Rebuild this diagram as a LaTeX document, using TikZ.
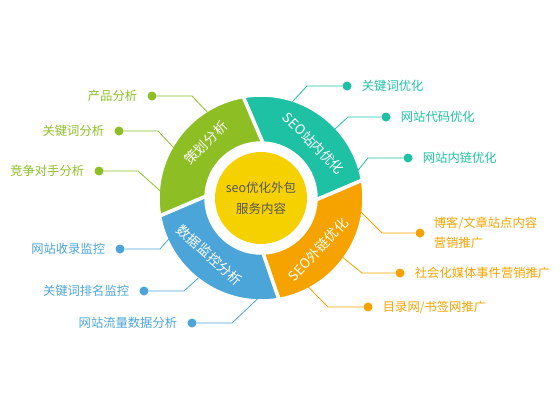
\documentclass[tikz,border=0pt]{standalone}
\usepackage{fontspec}
\setmainfont{Noto Sans CJK SC}
\usetikzlibrary{positioning}

\definecolor{cgreen}{HTML}{8DBF24}
\definecolor{cteal}{HTML}{1FC1A4}
\definecolor{corange}{HTML}{F6A300}
\definecolor{cblue}{HTML}{4CA5D8}
\definecolor{cyellow}{HTML}{F6D100}
\definecolor{cgray}{HTML}{555555}

\tikzset{
  seg/.style={draw=white, line width=3.5pt},
  seglabel/.style={text=white, font=\fontsize{13.5}{15}\selectfont, inner sep=0pt},
  dot/.style={circle, fill=#1, inner sep=0pt, minimum size=9pt},
  lbl/.style={text=#1, inner sep=1pt, font=\fontsize{12.3}{14}\selectfont},
  lead/.style={draw=#1, line width=0.8pt}
}

\begin{document}
\begin{tikzpicture}[x=1pt, y=1pt]
\useasboundingbox (0,0) rectangle (560,-407);

\coordinate (c) at (261,-198);

% ring of four parts, centre at (c)
\begin{scope}[shift={(c)}]
\filldraw[fill=cteal, seg] (88:55) -- (100:103) arc[start angle=100, end angle=10, radius=103]
  -- (-2:55) arc[start angle=-2, end angle=88, radius=55] -- cycle;
\filldraw[fill=corange, seg] (-2:55) -- (10:103) arc[start angle=10, end angle=-80, radius=103]
  -- (-88:55) arc[start angle=-88, end angle=-2, radius=55] -- cycle;
\filldraw[fill=cblue, seg] (-88:55) -- (-80:103) arc[start angle=-80, end angle=-170, radius=103]
  -- (-182:55) arc[start angle=-182, end angle=-88, radius=55] -- cycle;
\filldraw[fill=cgreen, seg] (178:55) -- (190:103) arc[start angle=190, end angle=100, radius=103]
  -- (88:55) arc[start angle=88, end angle=178, radius=55] -- cycle;

\node[seglabel, rotate=45] (plan) at (135:78) {策划分析};
\node[seglabel, rotate=-45] (onsite) at (46:76) {SEO站内优化};
\node[seglabel, rotate=47] (offsite) at (-42:77) {SEO外链优化};
\node[seglabel, rotate=-42] (watch) at (-132:77) {数据监控分析};

% where the leaders meet the ring
\coordinate (g1e) at (122:101);
\coordinate (g2e) at (150:101);
\coordinate (g3e) at (176:101);
\coordinate (b1e) at (204:101);
\coordinate (b2e) at (232:101);
\coordinate (b3e) at (268:101);
\coordinate (t1e) at (72:101);
\coordinate (t2e) at (43:101);
\coordinate (t3e) at (16:101);
\coordinate (o1e) at (-8:101);
\coordinate (o2e) at (-36:101);
\coordinate (o3e) at (-62:101);
\end{scope}

% hub
\node[circle, fill=cyellow, minimum size=92pt, inner sep=0pt, align=center, text=cgray,
  font=\fontsize{12.5}{21}\selectfont] (hub) at (c) {seo优化外包\\服务内容};

% green side
\node[dot=cgreen] (g1) at (152,-96) {};
\node[dot=cgreen] (g2) at (119,-131) {};
\node[dot=cgreen] (g3) at (99,-171) {};
\node[lbl=cgreen, left=9pt of g1] (g1t) {产品分析};
\node[lbl=cgreen, left=9pt of g2] (g2t) {关键词分析};
\node[lbl=cgreen, left=9pt of g3] (g3t) {竞争对手分析};
\coordinate (g1k) at (192,-96);
\coordinate (g2k) at (158,-131);
\coordinate (g3k) at (138,-171);
\draw[lead=cgreen] (g1) -- (g1k) -- (g1e);
\draw[lead=cgreen] (g2) -- (g2k) -- (g2e);
\draw[lead=cgreen] (g3) -- (g3k) -- (g3e);

% blue side
\node[dot=cblue] (b1) at (120,-249) {};
\node[dot=cblue] (b2) at (144,-291) {};
\node[dot=cblue] (b3) at (192,-323) {};
\node[lbl=cblue, left=9pt of b1] (b1t) {网站收录监控};
\node[lbl=cblue, left=9pt of b2] (b2t) {关键词排名监控};
\node[lbl=cblue, left=9pt of b3] (b3t) {网站流量数据分析};
\coordinate (b1k) at (160,-249);
\coordinate (b2k) at (184,-291);
\coordinate (b3k) at (232,-323);
\draw[lead=cblue] (b1) -- (b1k) -- (b1e);
\draw[lead=cblue] (b2) -- (b2k) -- (b2e);
\draw[lead=cblue] (b3) -- (b3k) -- (b3e);

% teal side
\node[dot=cteal] (t1) at (347,-86) {};
\node[dot=cteal] (t2) at (386,-117) {};
\node[dot=cteal] (t3) at (408,-158) {};
\node[lbl=cteal, right=9pt of t1] (t1t) {关键词优化};
\node[lbl=cteal, right=9pt of t2] (t2t) {网站代码优化};
\node[lbl=cteal, right=9pt of t3] (t3t) {网站内链优化};
\coordinate (t1k) at (307,-86);
\coordinate (t2k) at (348,-117);
\coordinate (t3k) at (368,-158);
\draw[lead=cteal] (t1) -- (t1k) -- (t1e);
\draw[lead=cteal] (t2) -- (t2k) -- (t2e);
\draw[lead=cteal] (t3) -- (t3k) -- (t3e);

% orange side
\node[dot=corange] (o1) at (420,-233) {};
\node[dot=corange] (o2) at (400,-273) {};
\node[dot=corange] (o3) at (368,-307) {};
\node[lbl=corange, right=8pt of o1, align=left, font=\fontsize{12.3}{20}\selectfont] (o1t) {博客/文章站点内容\\营销推广};
\node[lbl=corange, right=9pt of o2] (o2t) {社会化媒体事件营销推广};
\node[lbl=corange, right=9pt of o3] (o3t) {目录网/书签网推广};
\coordinate (o1k) at (382,-233);
\coordinate (o2k) at (362,-273);
\coordinate (o3k) at (328,-307);
\draw[lead=corange] (o1) -- (o1k) -- (o1e);
\draw[lead=corange] (o2) -- (o2k) -- (o2e);
\draw[lead=corange] (o3) -- (o3k) -- (o3e);

\end{tikzpicture}
\end{document}
